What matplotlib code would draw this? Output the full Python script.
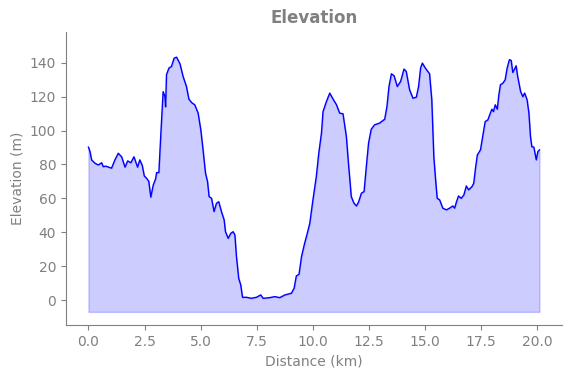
import matplotlib
matplotlib.use('Agg')
import matplotlib.pyplot as plt

# distance along the route (km) and elevation (m)
dist = [0.00, 0.07, 0.14, 0.29, 0.44, 0.59, 0.66, 0.77, 1.03, 1.18,
        1.33, 1.48, 1.63, 1.75, 1.89, 2.03, 2.19, 2.29, 2.40, 2.49,
        2.59, 2.69, 2.78, 2.89, 2.99, 3.04, 3.14, 3.23, 3.33, 3.41,
        3.44, 3.48, 3.59, 3.70, 3.82, 3.93, 4.08, 4.22, 4.37, 4.48,
        4.60, 4.74, 4.89, 5.01, 5.11, 5.22, 5.31, 5.38, 5.49, 5.60,
        5.71, 5.81, 5.93, 6.05, 6.11, 6.23, 6.35, 6.45, 6.53, 6.60,
        6.70, 6.79, 6.87, 7.05, 7.27, 7.49, 7.68, 7.79, 8.08, 8.31,
        8.53, 8.76, 9.05, 9.17, 9.27, 9.39, 9.50, 9.64, 9.76, 9.87,
        10.01, 10.16, 10.27, 10.39, 10.46, 10.61, 10.76, 10.91, 11.06, 11.20,
        11.35, 11.50, 11.60, 11.72, 11.84, 11.95, 12.05, 12.17, 12.29, 12.39,
        12.49, 12.61, 12.76, 12.98, 13.21, 13.31, 13.40, 13.51, 13.63, 13.77,
        13.92, 14.07, 14.17, 14.32, 14.47, 14.62, 14.72, 14.81, 14.89, 15.02,
        15.21, 15.31, 15.40, 15.48, 15.55, 15.66, 15.80, 15.96, 16.10, 16.25,
        16.33, 16.40, 16.50, 16.62, 16.74, 16.85, 16.95, 17.10, 17.18, 17.25,
        17.34, 17.48, 17.59, 17.69, 17.81, 17.92, 17.99, 18.06, 18.14, 18.23,
        18.30, 18.37, 18.48, 18.58, 18.67, 18.77, 18.85, 18.92, 19.00, 19.07,
        19.14, 19.27, 19.37, 19.45, 19.56, 19.64, 19.71, 19.77, 19.86, 19.97,
        20.04, 20.11]

elev = [90.2, 87.6, 82.7, 80.7, 79.7, 81.0, 78.7, 79.0, 77.8, 82.7,
        86.6, 84.5, 78.4, 82.1, 81.0, 84.5, 78.4, 82.7, 79.4, 73.2,
        71.9, 70.0, 60.7, 67.9, 71.3, 75.2, 75.2, 98.5, 123.0, 120.0,
        114.0, 133.0, 136.9, 137.8, 142.7, 143.3, 139.4, 131.9, 126.0, 118.5,
        116.5, 115.2, 110.3, 100.4, 88.6, 74.8, 69.9, 61.0, 60.0, 52.2,
        57.1, 58.0, 52.2, 47.3, 40.3, 36.4, 39.4, 40.3, 38.4, 25.6,
        12.8, 8.9, 1.6, 1.6, 1.0, 1.6, 3.0, 1.0, 1.4, 2.0,
        1.4, 3.0, 4.0, 6.9, 14.2, 15.2, 25.6, 33.5, 39.4, 45.3,
        59.1, 72.8, 86.6, 98.5, 111.2, 117.1, 122.1, 118.5, 115.2, 110.3,
        109.9, 96.5, 79.7, 61.0, 57.1, 55.5, 58.0, 63.0, 64.0, 78.7,
        92.6, 100.8, 103.4, 104.4, 106.7, 114.2, 126.0, 133.5, 132.3, 126.0,
        129.0, 136.3, 134.9, 124.0, 119.1, 119.7, 126.0, 136.9, 139.8, 136.9,
        133.5, 118.1, 84.6, 70.9, 60.0, 59.1, 54.2, 53.2, 54.2, 55.5,
        54.2, 57.5, 61.4, 60.0, 62.0, 67.3, 65.0, 66.9, 68.9, 76.8,
        85.6, 88.6, 97.5, 105.3, 106.3, 110.3, 112.6, 111.2, 115.2, 112.6,
        121.1, 127.0, 128.0, 129.9, 136.9, 141.8, 141.4, 134.3, 136.3, 138.2,
        131.9, 123.0, 120.0, 122.1, 118.1, 110.3, 96.5, 90.5, 90.2, 82.7,
        87.6, 88.6]

fill_floor = -7

grey = '#808080'
fig = plt.figure(figsize=(5.71, 3.78), dpi=100)
ax = fig.add_axes([0.1156, 0.140, 0.868, 0.776])

ax.fill_between(dist, elev, fill_floor, color='blue', alpha=0.2)
ax.plot(dist, elev, color='blue', linewidth=1)

ax.set_xlim(-1.0, 21.1)
ax.set_ylim(-14.8, 158.3)
ax.set_xticks([0, 2.5, 5, 7.5, 10, 12.5, 15, 17.5, 20])
ax.set_yticks([0, 20, 40, 60, 80, 100, 120, 140])

ax.set_title('Elevation', color=grey, fontweight='bold', fontsize=12)
ax.set_xlabel('Distance (km)', color=grey)
ax.set_ylabel('Elevation (m)', color=grey)
ax.tick_params(colors=grey)
for s in ['top', 'right']:
    ax.spines[s].set_visible(False)
for s in ['left', 'bottom']:
    ax.spines[s].set_color(grey)

fig.savefig('out.png', dpi=100)
